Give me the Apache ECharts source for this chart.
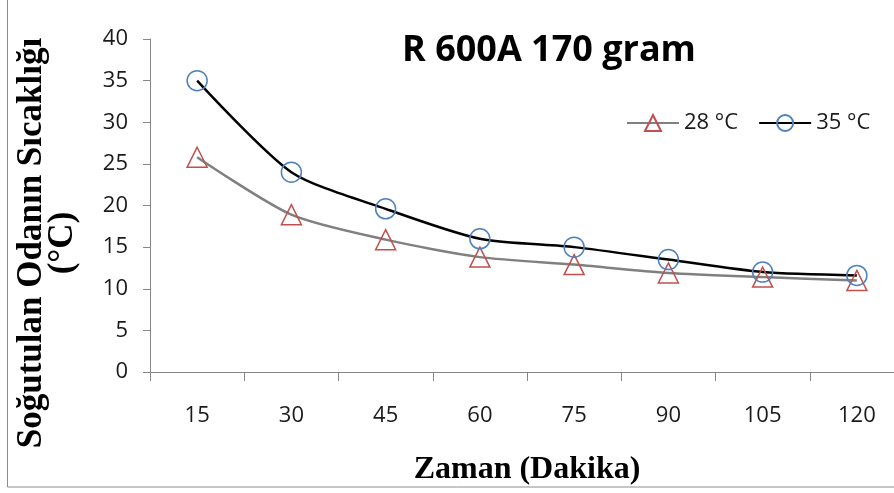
<!DOCTYPE html>
<html>
<head>
<meta charset="utf-8">
<script src="https://cdn.jsdelivr.net/npm/echarts@6/dist/echarts.min.js"></script>
<style>html,body{margin:0;padding:0;background:#fff;overflow:hidden}#c{width:904px;height:493px}</style>
</head>
<body>
<div id="c"></div>
<script>
const categories = ['15', '30', '45', '60', '75', '90', '105', '120'];
const series28 = [25.8, 18.9, 15.9, 13.8, 12.9, 11.9, 11.4, 11.0];
const series35 = [35.0, 24.0, 19.6, 16.0, 15.0, 13.5, 12.0, 11.6];
const seriesNames = ['28 °C', '35 °C'];
const yTicks = { min: 0, max: 40, interval: 5 };
const titleText = 'R 600A 170 gram';
const xTitle = 'Zaman (Dakika)';
const yTitle = 'Soğutulan Odanın Sıcaklığı\n(°C)';

const chart = echarts.init(document.getElementById('c'), null, { renderer: 'canvas' });
const labelFont = { fontFamily: 'Open Sans', fontSize: 22, color: '#1a1a1a' };
chart.setOption({
  animation: false,
  backgroundColor: '#fff',
  title: {
    text: titleText,
    left: 544, top: 28,
    textAlign: 'center',
    textStyle: { fontFamily: 'Open Sans', fontWeight: 'bold', fontSize: 36, color: '#000' }
  },
  legend: {
    data: seriesNames,
    left: 621, top: 107,
    itemWidth: 52, itemHeight: 20, itemGap: 20,
    textStyle: { fontFamily: 'Open Sans', fontSize: 22, color: '#1a1a1a' }
  },
  grid: { left: 150, top: 39, bottom: 121, right: 0, containLabel: false },
  xAxis: {
    type: 'category',
    data: categories,
    boundaryGap: true,
    name: xTitle,
    nameLocation: 'middle',
    nameGap: 82,
    nameTextStyle: { fontFamily: 'Liberation Serif', fontWeight: 'bold', fontSize: 32, color: '#000' },
    axisLine: { lineStyle: { color: '#868686', width: 1 } },
    axisTick: { show: true, length: 9, interval: 0, lineStyle: { color: '#868686' } },
    axisLabel: Object.assign({ margin: 33, interval: 0 }, labelFont),
    splitLine: { show: false }
  },
  yAxis: {
    type: 'value',
    min: yTicks.min, max: yTicks.max, interval: yTicks.interval,
    axisLine: { show: true, lineStyle: { color: '#868686', width: 1 } },
    axisTick: { show: true, length: 7, lineStyle: { color: '#868686' } },
    axisLabel: Object.assign({ margin: 22 }, labelFont),
    splitLine: { show: false }
  },
  graphic: [
    {
      type: 'rect', silent: true, z: -10,
      shape: { x: 7.5, y: -5, width: 910, height: 492 },
      style: { fill: 'none', stroke: '#8c8c8c', lineWidth: 1 }
    },
    {
      type: 'text', x: 47, y: 243, rotation: Math.PI / 2,
      style: {
        text: yTitle, align: 'center', verticalAlign: 'middle',
        fontFamily: 'Liberation Serif', fontWeight: 'bold', fontSize: 35, lineHeight: 31, fill: '#000'
      }
    }
  ],
  series: [
    {
      name: seriesNames[0], type: 'line', data: series28, smooth: 0.25,
      symbol: 'triangle', symbolSize: 20,
      lineStyle: { color: '#808080', width: 2.5 },
      itemStyle: { color: 'rgba(255,255,255,0)', borderColor: '#C0504D', borderWidth: 1.5 }
    },
    {
      name: seriesNames[1], type: 'line', data: series35, smooth: 0.25,
      symbol: 'circle', symbolSize: 20,
      lineStyle: { color: '#000000', width: 2.5 },
      itemStyle: { color: 'rgba(255,255,255,0)', borderColor: '#4F81BD', borderWidth: 1.5 }
    }
  ]
});
</script>
</body>
</html>
